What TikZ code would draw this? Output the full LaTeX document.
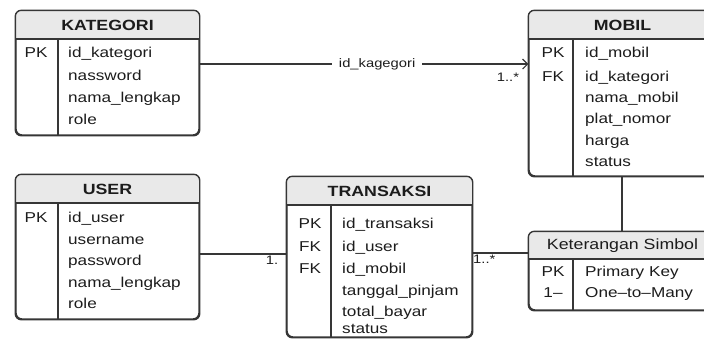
\documentclass[tikz,border=0pt]{standalone}
\usepackage{fontspec}
\setmainfont{Liberation Sans}[FakeStretch=1.2]
\usetikzlibrary{arrows.meta}
\definecolor{linec}{HTML}{363636}
\definecolor{hdrc}{HTML}{E9E9E9}
\definecolor{txtc}{HTML}{1C1C1C}
\tikzset{
  tblbox/.style={draw=linec, line width=1.4pt, rounded corners=6pt, fill=white, inner sep=0pt, rectangle},
  tblline/.style={draw=linec, line width=1.4pt},
  innerln/.style={draw=linec, line width=1.2pt},
  ttl/.style={font=\bfseries\fontsize{14.8}{16}\selectfont, text=txtc, inner sep=0pt},
  fld/.style={font=\fontsize{14.3}{16}\selectfont, text=txtc, anchor=west, inner sep=0pt, text height=10pt, text depth=3pt},
  keyc/.style={font=\fontsize{14.3}{16}\selectfont, text=txtc, inner sep=0pt, text height=10pt, text depth=3pt},
  conn/.style={draw=linec, line width=1.1pt},
  lbl/.style={font=\fontsize{12.3}{14}\selectfont, text=txtc, inner sep=0pt, text height=9pt, text depth=3pt}
}
\newcommand\ertbl[8]{%
  \node[tblbox, minimum width={(#4-#2)*1pt}, minimum height={(#5-#3)*1pt}] (#1) at ({(#2+#4)/2},{(#3+#5)/2}) {};
  \begin{scope}
    \clip[rounded corners=6pt] (#1.south west) rectangle (#1.north east);
    \fill[hdrc] (#2,#3) rectangle (#4,#6);
  \end{scope}
  \draw[innerln] (#2,#6) -- (#4,#6);
  \draw[innerln] (#7,#6) -- (#7,#5);
  \draw[tblline, rounded corners=6pt] (#1.south west) rectangle (#1.north east);
  \node[ttl] (#1-t) at ({(#2+#4)/2},{(#3+#6)/2}) {#8};
}
\begin{document}
\begin{tikzpicture}[x=1pt,y=-1pt]
\useasboundingbox (0,0) rectangle (704,338);
\clip (0,0) rectangle (704,338);
\fill[white] (0,0) rectangle (704,338);

% KATEGORI
\ertbl{kat}{16}{11}{199}{135}{39}{58}{KATEGORI}
\node[keyc] (kat-k1) at (36,54) {PK};
\node[fld] (kat-f1) at (68,54) {id\_kategori};
\node[fld] (kat-f2) at (68,77) {nassword};
\node[fld] (kat-f3) at (68,99) {nama\_lengkap};
\node[fld] (kat-f4) at (68,121) {role};

% MOBIL
\ertbl{mob}{529}{11}{716}{176}{39}{573}{MOBIL}
\node[keyc] (mob-k1) at (553,54) {PK};
\node[keyc] (mob-k2) at (553,78) {FK};
\node[fld] (mob-f1) at (585,54) {id\_mobil};
\node[fld] (mob-f2) at (585,78) {id\_kategori};
\node[fld] (mob-f3) at (585,99) {nama\_mobil};
\node[fld] (mob-f4) at (585,120) {plat\_nomor};
\node[fld] (mob-f5) at (585,142) {harga};
\node[fld] (mob-f6) at (585,163) {status};

% USER
\ertbl{usr}{16}{175}{199}{319}{203}{58}{USER}
\node[keyc] (usr-k1) at (36,219) {PK};
\node[fld] (usr-f1) at (68,219) {id\_user};
\node[fld] (usr-f2) at (68,241) {username};
\node[fld] (usr-f3) at (68,262) {password};
\node[fld] (usr-f4) at (68,284) {nama\_lengkap};
\node[fld] (usr-f5) at (68,305) {role};

% TRANSAKSI
\ertbl{trx}{287}{177}{472}{337}{205}{331}{TRANSAKSI}
\node[keyc] (trx-k1) at (310,225) {PK};
\node[keyc] (trx-k2) at (310,248) {FK};
\node[keyc] (trx-k3) at (310,270) {FK};
\node[fld] (trx-f1) at (342,225) {id\_transaksi};
\node[fld] (trx-f2) at (342,248) {id\_user};
\node[fld] (trx-f3) at (342,270) {id\_mobil};
\node[fld] (trx-f4) at (342,292) {tanggal\_pinjam};
\node[fld] (trx-f5) at (342,313) {total\_bayar};
\node[fld] (trx-f6) at (342,330) {status};

% Keterangan
\ertbl{ket}{529}{232}{716}{310}{259}{573}{\mdseries Keterangan Simbol}
\node[keyc] (ket-k1) at (553,273) {PK};
\node[keyc] (ket-k2) at (553,294) {1–};
\node[fld] (ket-f1) at (585,273) {Primary Key};
\node[fld] (ket-f2) at (585,294) {One–to–Many};

% connectors
\coordinate (c1a) at (kat.east |- 0,64);
\coordinate (c1b) at (mob.west |- 0,64);
\draw[conn, -{Straight Barb[length=5pt,width=10pt]}] (c1a) -- node[lbl, pos=0.54, fill=white, inner xsep=7pt] (lab1) {id\_kagegori} (c1b);
\node[lbl] (m1) at (508,78) {1..*};

\coordinate (c2a) at (usr.east |- 0,254);
\coordinate (c2b) at (trx.west |- 0,254);
\draw[conn] (c2a) -- (c2b);
\node[lbl] (m2) at (272,261) {1.};

\coordinate (c3a) at (trx.east |- 0,253);
\coordinate (c3b) at (ket.west |- 0,253);
\draw[conn] (c3a) -- (c3b);
\node[lbl, anchor=west] (m3) at (473,260) {1..*};

\coordinate (c4a) at (622,176);
\coordinate (c4b) at (622,232);
\draw[conn] (mob.south -| c4a) -- (ket.north -| c4b);
\end{tikzpicture}
\end{document}
